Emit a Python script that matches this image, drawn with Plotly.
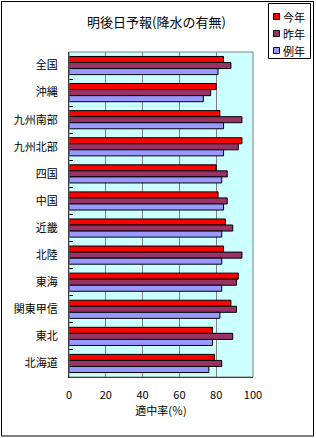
import plotly.graph_objects as go

regions = ["全国", "沖縄", "九州南部", "九州北部", "四国", "中国", "近畿", "北陸", "東海", "関東甲信", "東北", "北海道"]
series_names = ["今年", "昨年", "例年"]
this_year = [84, 80, 82, 94, 80, 81, 85, 84, 92, 88, 78, 79]
last_year = [88, 77, 94, 92, 86, 86, 89, 94, 91, 91, 89, 83]
normal_year = [81, 73, 84, 84, 83, 84, 83, 83, 83, 82, 78, 76]
series_values = [this_year, last_year, normal_year]
colors = ["#FF0000", "#993366", "#9999FF"]
x_ticks = [0, 20, 40, 60, 80, 100]

FONT = "Noto Sans CJK JP"
W, H = 316, 438
L, R, T, B = 69, 63, 52, 61

fig = go.Figure()
for name, vals, c in zip(series_names, series_values, colors):
    fig.add_trace(go.Bar(
        y=regions, x=vals, name=name, orientation="h",
        marker=dict(color=c, line=dict(color="black", width=1)),
        showlegend=False,
    ))

pw = W - L - R
ph = H - T - B

def px_x(px):
    return (px - L) / pw

def px_y(py):
    return 1 - (py - T) / ph

shapes = []
annotations = []
# outer border
shapes.append(dict(type="rect", xref="paper", yref="paper",
                   x0=px_x(1.5), x1=px_x(313.5), y0=px_y(436), y1=px_y(1.5),
                   line=dict(color="black", width=1), fillcolor="rgba(0,0,0,0)", layer="below"))
# plot border (gray)
shapes.append(dict(type="rect", xref="paper", yref="paper", x0=0, x1=1, y0=0, y1=1,
                   line=dict(color="#808080", width=1), fillcolor="rgba(0,0,0,0)", layer="above"))
# legend box
shapes.append(dict(type="rect", xref="paper", yref="paper",
                   x0=px_x(268.5), x1=px_x(310.5), y0=px_y(58.5), y1=px_y(3.5),
                   line=dict(color="black", width=1), fillcolor="white", layer="above"))
leg_y = [17, 34, 51]
for name, c, yy in zip(series_names, colors, leg_y):
    shapes.append(dict(type="rect", xref="paper", yref="paper",
                       x0=px_x(273.5), x1=px_x(279.5), y0=px_y(yy + 2.5), y1=px_y(yy - 3.5),
                       line=dict(color="black", width=1), fillcolor=c, layer="above"))
    annotations.append(dict(text=name, xref="paper", yref="paper", x=px_x(281), y=px_y(yy),
                            xanchor="left", yanchor="middle", showarrow=False,
                            font=dict(family=FONT, size=11, color="black")))

fig.update_layout(
    width=W, height=H,
    margin=dict(l=L, r=R, t=T, b=B),
    paper_bgcolor="white",
    plot_bgcolor="#CCFFFF",
    barmode="group",
    bargap=0.33,
    bargroupgap=0,
    font=dict(family=FONT, size=11, color="black"),
    title=dict(text="明後日予報(降水の有無)", x=156.5 / W, xref="container", xanchor="center",
               y=1 - 22 / H, yref="container", yanchor="middle",
               font=dict(family=FONT, size=13, color="black")),
    xaxis=dict(range=[0, 100], tickvals=x_ticks, ticktext=[str(v) for v in x_ticks],
               showgrid=True, gridcolor="#808080", gridwidth=1,
               showline=True, linecolor="black", linewidth=1, zeroline=False,
               ticks="", ticklabelstandoff=8,
               title=dict(text="適中率(％)", standoff=6, font=dict(family=FONT, size=11)),
               tickfont=dict(family=FONT, size=11), fixedrange=True),
    yaxis=dict(autorange="reversed", showline=True, linecolor="black", linewidth=1,
               ticks="inside", tickson="boundaries", ticklen=4, tickcolor="black",
               showgrid=False, ticklabelstandoff=8,
               tickfont=dict(family=FONT, size=11), fixedrange=True),
    shapes=shapes,
    annotations=annotations,
)

fig.write_html("out.html", config={"displayModeBar": False})
